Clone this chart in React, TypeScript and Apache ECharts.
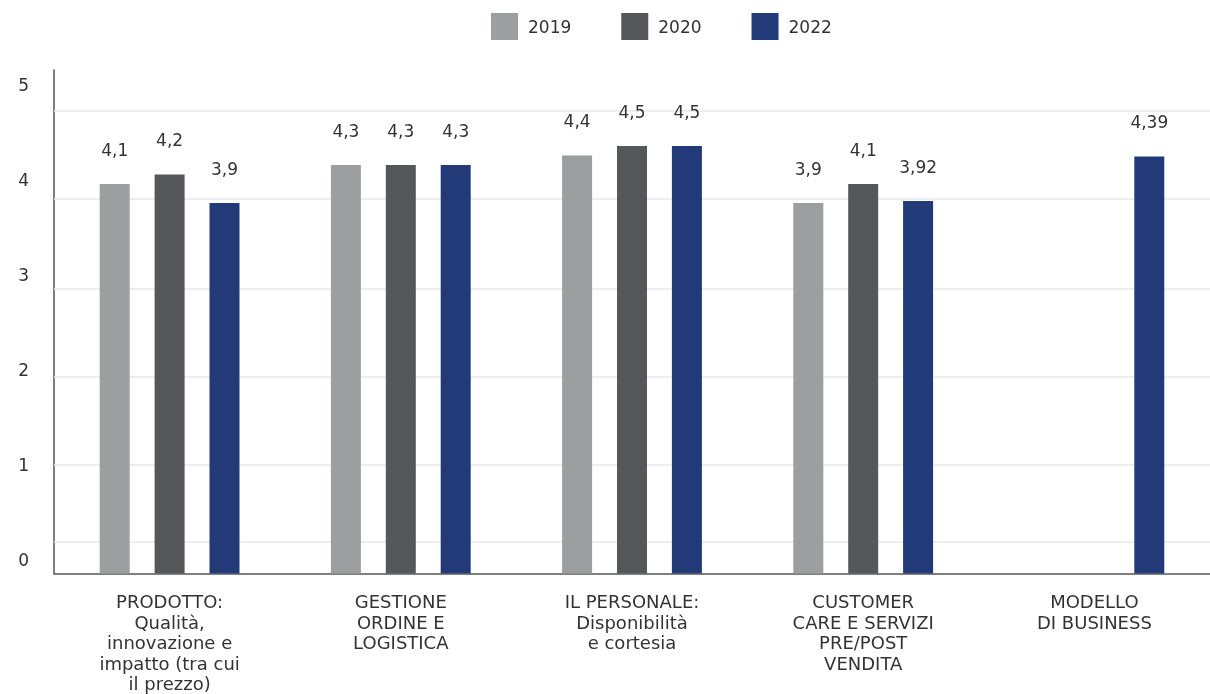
import React, { useEffect, useRef } from "react";
import * as echarts from "echarts";

const categories = [
  "PRODOTTO:\nQualità,\ninnovazione e\nimpatto (tra cui\nil prezzo)",
  "GESTIONE\nORDINE E\nLOGISTICA",
  "IL PERSONALE:\nDisponibilità\ne cortesia",
  "CUSTOMER\nCARE E SERVIZI\nPRE/POST\nVENDITA",
  "MODELLO\nDI BUSINESS",
];
const seriesNames = ["2019", "2020", "2022"];
const values2019 = [4.1, 4.3, 4.4, 3.9, null];
const values2020 = [4.2, 4.3, 4.5, 4.1, null];
const values2022 = [3.9, 4.3, 4.5, 3.92, 4.39];
const colors = ["#9c9fa0", "#55575b", "#223a78"];
// decorative horizontal rules of the original (in value units)
const ruleValues = [0.33, 1.14, 2.07, 3.0, 3.94, 4.87];

const FONT = "DejaVu Sans";
const TEXT = "#333333";

export default function App() {
  const ref = useRef<HTMLDivElement>(null);
  useEffect(() => {
    if (!ref.current) return;
    const chart = echarts.init(ref.current, undefined, { renderer: "svg" });
    const fmt = (p: any) => String(p.value).replace(".", ",");
    const mkSeries = (i: number, data: (number | null)[]) => ({
      name: seriesNames[i],
      type: "bar",
      data,
      z: 2,
      barWidth: 30,
      barGap: "83%",
      itemStyle: { color: colors[i] },
      label: {
        show: true,
        position: "top",
        distance: 26,
        formatter: fmt,
        color: TEXT,
        fontFamily: FONT,
        fontSize: 17,
      },
    });
    const s0: any = mkSeries(0, values2019);
    s0.markLine = {
      silent: true,
      symbol: "none",
      z: 1,
      label: { show: false },
      lineStyle: { color: "#e8e8e8", width: 1.5, type: "solid" },
      data: ruleValues.map((v) => ({ yAxis: v })),
    };
    chart.setOption({
      animation: false,
      legend: {
        top: 8,
        left: 486,
        itemWidth: 27,
        itemHeight: 27,
        itemGap: 50,
        icon: "rect",
        textStyle: {
          fontFamily: FONT,
          fontSize: 17,
          color: TEXT,
          padding: [0, 0, 0, 5],
        },
        data: seriesNames,
      },
      grid: { left: 54, right: -5, top: 70, bottom: 119.5, containLabel: false },
      xAxis: {
        type: "category",
        data: categories,
        axisLine: { lineStyle: { color: "#555555", width: 1.5 } },
        axisTick: { show: false },
        axisLabel: {
          interval: 0,
          margin: 18,
          fontFamily: FONT,
          fontSize: 18,
          lineHeight: 20.5,
          color: TEXT,
          align: "center",
        },
      },
      yAxis: {
        type: "value",
        min: 0,
        max: 5.3,
        interval: 1,
        axisLine: { show: true, lineStyle: { color: "#555555", width: 1.5 } },
        axisTick: { show: false },
        splitLine: { show: false },
        axisLabel: {
          showMaxLabel: false,
          margin: 25,
          fontFamily: FONT,
          fontSize: 17,
          color: TEXT,
          verticalAlign: "bottom",
          lineHeight: 28,
          formatter: (v: number) => (Number.isInteger(v) ? String(v) : ""),
        },
      },
      series: [s0, mkSeries(1, values2020), mkSeries(2, values2022)],
    });
    return () => chart.dispose();
  }, []);
  return (
    <div
      ref={ref}
      style={{ position: "fixed", left: 0, top: 0, width: 1210, height: 694 }}
    />
  );
}
